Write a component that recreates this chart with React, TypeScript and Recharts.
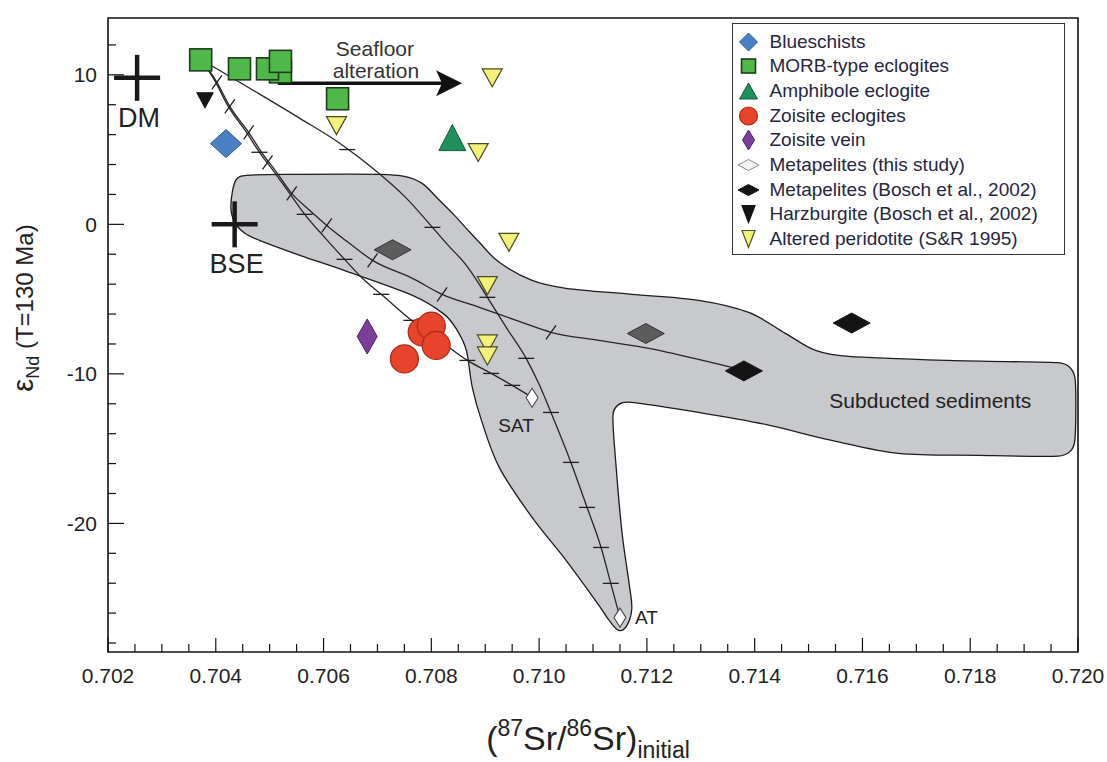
import React from 'react'
import { ScatterChart, Scatter, XAxis, YAxis, ReferenceArea } from 'recharts'

const FONT = "'Liberation Sans', Arial, Helvetica, sans-serif"

// layout (pixels)
const W = 1107
const H = 762
const PLOT_LEFT = 108
const PLOT_RIGHT = 1078
const PLOT_TOP = 18
const PLOT_BOTTOM = 652

// axes
const X_DOMAIN: [number, number] = [0.702, 0.72]
const Y_DOMAIN: [number, number] = [-28.6, 13.8]
const X_MAJOR = [0.702, 0.704, 0.706, 0.708, 0.71, 0.712, 0.714, 0.716, 0.718, 0.72]
const X_TICKS = X_MAJOR.flatMap((m, i) =>
  i === X_MAJOR.length - 1 ? [m] : [m, m + 0.0005, m + 0.001, m + 0.0015].map((v) => Number(v.toFixed(4)))
)
const Y_MAJOR = [-20, -10, 0, 10]
const Y_TICKS = [-28, -26, -24, -22, -20, -18, -16, -14, -12, -10, -8, -6, -4, -2, 0, 2, 4, 6, 8, 10, 12]

// samples
const blueschists = [{ x: 0.70419, y: 5.4 }]
const morbEclogites = [
  { x: 0.7052, y: 10.2 },
  { x: 0.70372, y: 11.0 },
  { x: 0.70444, y: 10.4 },
  { x: 0.70496, y: 10.4 },
  { x: 0.7052, y: 10.9 },
  { x: 0.70626, y: 8.4 },
]
const amphiboleEclogite = [{ x: 0.70839, y: 5.8 }]
const zoisiteEclogites = [
  { x: 0.70783, y: -7.2 },
  { x: 0.708, y: -6.8 },
  { x: 0.70809, y: -8.1 },
  { x: 0.7075, y: -9.0 },
]
const zoisiteVein = [{ x: 0.70681, y: -7.5 }]
const metapelitesThisStudy = [
  { x: 0.70987, y: -11.6, name: 'SAT' },
  { x: 0.7115, y: -26.3, name: 'AT' },
]
const metapelitesBoschGrey = [
  { x: 0.70728, y: -1.7 },
  { x: 0.71198, y: -7.3 },
]
const metapelitesBosch = [
  { x: 0.7158, y: -6.6 },
  { x: 0.7138, y: -9.8 },
]
const harzburgite = [{ x: 0.7038, y: 8.3 }]
const alteredPeridotite = [
  { x: 0.70913, y: 9.8 },
  { x: 0.70624, y: 6.6 },
  { x: 0.70887, y: 4.8 },
  { x: 0.70944, y: -1.2 },
  { x: 0.70904, y: -4.1 },
  { x: 0.70904, y: -8.0 },
  { x: 0.70904, y: -8.8 },
]
const reservoirs = [
  { x: 0.70254, y: 9.8, name: 'DM' },
  { x: 0.70435, y: 0, name: 'BSE' },
]

// annotations
const seafloorArrow = [
  { x: 0.70515, y: 9.43 },
  { x: 0.70857, y: 9.43 },
]
const sedimentLabel = [{ x: 0.71726, y: -11.8, name: 'Subducted sediments' }]

// subducted sediment field outline
const sedimentOutline = [
  { x: 0.70437, y: 2.94 }, { x: 0.70459, y: 3.28 }, { x: 0.70556, y: 3.34 }, { x: 0.70704, y: 3.34 },
  { x: 0.7075, y: 3.21 }, { x: 0.70783, y: 2.74 }, { x: 0.70815, y: 1.61 }, { x: 0.70843, y: 0.6 },
  { x: 0.70865, y: -0.27 }, { x: 0.70889, y: -1.2 }, { x: 0.70926, y: -2.54 }, { x: 0.70987, y: -3.75 },
  { x: 0.7105, y: -4.28 }, { x: 0.71172, y: -4.68 }, { x: 0.71296, y: -5.08 }, { x: 0.71389, y: -5.89 },
  { x: 0.71457, y: -7.29 }, { x: 0.71513, y: -8.43 }, { x: 0.71574, y: -8.83 }, { x: 0.71759, y: -9.1 },
  { x: 0.71907, y: -9.2 }, { x: 0.71963, y: -9.25 }, { x: 0.71983, y: -9.5 }, { x: 0.71994, y: -10.2 },
  { x: 0.71996, y: -12.0 }, { x: 0.71994, y: -14.5 }, { x: 0.71985, y: -15.2 }, { x: 0.71963, y: -15.5 },
  { x: 0.71815, y: -15.45 }, { x: 0.71667, y: -15.32 }, { x: 0.71543, y: -14.45 },
  { x: 0.7142, y: -13.38 }, { x: 0.71296, y: -12.58 }, { x: 0.71172, y: -11.91 }, { x: 0.71148, y: -12.04 },
  { x: 0.71137, y: -12.78 }, { x: 0.71143, y: -16.25 }, { x: 0.71154, y: -20.67 }, { x: 0.71167, y: -24.01 },
  { x: 0.71172, y: -25.69 }, { x: 0.71163, y: -26.82 }, { x: 0.71148, y: -27.16 }, { x: 0.7113, y: -26.49 },
  { x: 0.71111, y: -25.48 }, { x: 0.7105, y: -22.47 }, { x: 0.70987, y: -19.6 }, { x: 0.70926, y: -16.25 },
  { x: 0.70893, y: -13.11 }, { x: 0.70876, y: -10.9 }, { x: 0.70865, y: -8.43 }, { x: 0.70848, y: -7.09 },
  { x: 0.70824, y: -6.02 }, { x: 0.70765, y: -4.75 }, { x: 0.70643, y: -3.14 }, { x: 0.70556, y: -2.07 },
  { x: 0.70481, y: -1.07 }, { x: 0.70454, y: -0.6 }, { x: 0.70435, y: 0.13 }, { x: 0.70428, y: 1.27 },
]

// mixing curves
const mixSAT = [
  { x: 0.70372, y: 11.04 }, { x: 0.70398, y: 9.63 }, { x: 0.70422, y: 7.96 }, { x: 0.70457, y: 6.15 },
  { x: 0.70481, y: 4.82 }, { x: 0.70509, y: 3.48 }, { x: 0.70537, y: 2.07 }, { x: 0.70565, y: 0.67 },
  { x: 0.70602, y: -0.87 }, { x: 0.70639, y: -2.34 }, { x: 0.70672, y: -3.61 }, { x: 0.70707, y: -4.68 },
  { x: 0.70763, y: -6.42 }, { x: 0.7082, y: -7.89 }, { x: 0.70867, y: -9.1 }, { x: 0.70911, y: -9.97 },
  { x: 0.7095, y: -10.77 }, { x: 0.70987, y: -11.57 },
]
const mixSATTicks = [
  { x: 0.70481, y: 4.82 }, { x: 0.70565, y: 0.67 }, { x: 0.70639, y: -2.34 }, { x: 0.70707, y: -4.68 },
  { x: 0.70763, y: -6.42 }, { x: 0.70867, y: -9.1 }, { x: 0.70911, y: -9.97 }, { x: 0.7095, y: -10.77 },
]
const mixBosch = [
  { x: 0.70372, y: 11.04 }, { x: 0.70402, y: 9.5 }, { x: 0.70426, y: 7.89 }, { x: 0.70461, y: 6.15 },
  { x: 0.70485, y: 4.82 }, { x: 0.70513, y: 3.48 }, { x: 0.70541, y: 2.07 }, { x: 0.70574, y: 0.94 },
  { x: 0.70606, y: -0.07 }, { x: 0.70648, y: -1.27 }, { x: 0.70691, y: -2.41 }, { x: 0.70765, y: -3.61 },
  { x: 0.7082, y: -4.68 }, { x: 0.70889, y: -5.55 }, { x: 0.70963, y: -6.49 }, { x: 0.71022, y: -7.22 },
  { x: 0.71111, y: -7.76 }, { x: 0.71204, y: -8.29 }, { x: 0.71296, y: -9.03 }, { x: 0.7138, y: -9.77 },
]
const mixBoschTicks = [
  { x: 0.70402, y: 9.5 }, { x: 0.70426, y: 7.89 }, { x: 0.70461, y: 6.15 }, { x: 0.70496, y: 4.15 },
  { x: 0.70541, y: 2.07 }, { x: 0.70606, y: -0.07 }, { x: 0.70691, y: -2.41 }, { x: 0.7082, y: -4.68 },
  { x: 0.71022, y: -7.22 },
]
const mixAT = [
  { x: 0.70372, y: 11.04 }, { x: 0.70463, y: 9.1 }, { x: 0.70556, y: 7.09 }, { x: 0.7063, y: 5.42 },
  { x: 0.70698, y: 3.55 }, { x: 0.70754, y: 1.74 }, { x: 0.70802, y: -0.2 }, { x: 0.70833, y: -1.47 },
  { x: 0.70865, y: -2.74 }, { x: 0.70889, y: -4.01 }, { x: 0.70904, y: -4.88 }, { x: 0.70939, y: -6.89 },
  { x: 0.70976, y: -8.96 }, { x: 0.71, y: -10.7 }, { x: 0.71022, y: -12.58 }, { x: 0.71059, y: -15.92 },
  { x: 0.71089, y: -18.93 }, { x: 0.71115, y: -21.61 }, { x: 0.71133, y: -24.01 }, { x: 0.7115, y: -26.29 },
]
const mixATTicks = [
  { x: 0.70644, y: 5.0 }, { x: 0.70802, y: -0.2 }, { x: 0.70904, y: -4.88 }, { x: 0.70976, y: -8.96 },
  { x: 0.71022, y: -12.58 }, { x: 0.71059, y: -15.92 }, { x: 0.71089, y: -18.93 }, { x: 0.71115, y: -21.61 },
  { x: 0.71133, y: -24.01 },
]

// ---------- marker shapes ----------
type P = { cx: number; cy: number; payload?: any }

const diamond = (w: number, h: number, fill: string, stroke: string, sw = 1) => (p: P) => (
  <path
    d={`M${p.cx},${p.cy - h / 2}L${p.cx + w / 2},${p.cy}L${p.cx},${p.cy + h / 2}L${p.cx - w / 2},${p.cy}Z`}
    fill={fill}
    stroke={stroke}
    strokeWidth={sw}
  />
)
const square = (s: number, fill: string, stroke: string) => (p: P) => (
  <rect x={p.cx - s / 2} y={p.cy - s / 2} width={s} height={s} fill={fill} stroke={stroke} strokeWidth={1.6} />
)
const triUp = (w: number, h: number, fill: string, stroke: string) => (p: P) => (
  <path d={`M${p.cx},${p.cy - h / 2}L${p.cx + w / 2},${p.cy + h / 2}L${p.cx - w / 2},${p.cy + h / 2}Z`} fill={fill} stroke={stroke} strokeWidth={1} />
)
const triDown = (w: number, h: number, fill: string, stroke: string, sw = 1.2) => (p: P) => (
  <path d={`M${p.cx - w / 2},${p.cy - h / 2}L${p.cx + w / 2},${p.cy - h / 2}L${p.cx},${p.cy + h / 2}Z`} fill={fill} stroke={stroke} strokeWidth={sw} />
)
const circle = (r: number, fill: string, stroke: string) => (p: P) => (
  <circle cx={p.cx} cy={p.cy} r={r} fill={fill} stroke={stroke} strokeWidth={1.2} />
)

const noDot = () => <g />
const hTick = (p: P) => <line x1={p.cx - 8} x2={p.cx + 8} y1={p.cy} y2={p.cy} stroke="#1f1f1f" strokeWidth={1.3} />
const dTick = (p: P) => <line x1={p.cx - 5} x2={p.cx + 5} y1={p.cy + 7} y2={p.cy - 7} stroke="#1f1f1f" strokeWidth={1.3} />

const crossShape = (p: P) => (
  <g>
    <line x1={p.cx - 23} x2={p.cx + 23} y1={p.cy} y2={p.cy} stroke="#1a1a1a" strokeWidth={4.5} />
    <line x1={p.cx} x2={p.cx} y1={p.cy - 23} y2={p.cy + 23} stroke="#1a1a1a" strokeWidth={4.5} />
    <text x={p.cx + 2} y={p.cy + 49} textAnchor="middle" fontSize={27} fill="#222" fontFamily={FONT}>
      {p.payload?.name}
    </text>
  </g>
)

const whiteDiamond = diamond(12, 19, '#ffffff', '#4a4a4a', 1.1)
const sampleShape = (p: P) => {
  const isAT = p.payload?.name === 'AT'
  return (
    <g>
      {whiteDiamond(p)}
      <text
        x={isAT ? p.cx + 15 : p.cx - 16}
        y={isAT ? p.cy + 6 : p.cy + 34}
        textAnchor={isAT ? 'start' : 'middle'}
        fontSize={19}
        fill="#222"
        fontFamily={FONT}
      >
        {p.payload?.name}
      </text>
    </g>
  )
}

const textShape = (p: P) => (
  <text x={p.cx} y={p.cy + 7} textAnchor="middle" fontSize={21} fill="#222" fontFamily={FONT}>
    {p.payload?.name}
  </text>
)

// closed Catmull-Rom style spline through pixel points, handles limited to avoid overshoot
function closedSpline(pts: { x: number; y: number }[]) {
  const n = pts.length
  const handle = (a: { x: number; y: number }, b: { x: number; y: number }, seg: number) => {
    const tx = (b.x - a.x) / 6
    const ty = (b.y - a.y) / 6
    const len = Math.hypot(tx, ty) || 1
    const k = Math.min(1, (seg * 0.4) / len)
    return { x: tx * k, y: ty * k }
  }
  let d = `M${pts[0].x},${pts[0].y}`
  for (let i = 0; i < n; i++) {
    const p0 = pts[(i - 1 + n) % n]
    const p1 = pts[i]
    const p2 = pts[(i + 1) % n]
    const p3 = pts[(i + 2) % n]
    const seg = Math.hypot(p2.x - p1.x, p2.y - p1.y)
    const h1 = handle(p0, p2, seg)
    const h2 = handle(p1, p3, seg)
    d += `C${p1.x + h1.x},${p1.y + h1.y} ${p2.x - h2.x},${p2.y - h2.y} ${p2.x},${p2.y}`
  }
  return d + 'Z'
}

const blobLine = (props: any) => (
  <path d={closedSpline(props.points)} fill="#c8c9cc" stroke="#1c1c1c" strokeWidth={1.3} />
)

const arrowLine = (props: any) => {
  const [a, b] = props.points as { x: number; y: number }[]
  const mid = (a.x + b.x) / 2
  return (
    <g>
      <line x1={a.x} y1={a.y} x2={b.x - 20} y2={b.y} stroke="#111" strokeWidth={3.5} />
      <path d={`M${b.x},${b.y}L${b.x - 26},${b.y - 13}L${b.x - 20},${b.y}L${b.x - 26},${b.y + 13}Z`} fill="#111" />
      <text x={mid + 5} y={a.y - 27} textAnchor="middle" fontSize={21} fill="#333" fontFamily={FONT}>
        Seafloor
      </text>
      <text x={mid + 6} y={a.y - 5} textAnchor="middle" fontSize={21} fill="#333" fontFamily={FONT}>
        alteration
      </text>
    </g>
  )
}

// ---------- axes ----------
function XTick(props: any) {
  const { x, payload } = props
  const v = payload.value as number
  const major = X_MAJOR.some((m) => Math.abs(m - v) < 1e-7)
  return (
    <g>
      <line x1={x} x2={x} y1={PLOT_BOTTOM} y2={PLOT_BOTTOM - (major ? 14 : 8)} stroke="#111" strokeWidth={1.2} />
      {major && (
        <text x={x} y={PLOT_BOTTOM + 31} textAnchor="middle" fontSize={21} fill="#222" fontFamily={FONT}>
          {v.toFixed(3)}
        </text>
      )}
    </g>
  )
}

function YTick(props: any) {
  const { y, payload } = props
  const v = payload.value as number
  const major = Y_MAJOR.includes(v)
  return (
    <g>
      <line x1={PLOT_LEFT} x2={PLOT_LEFT + (major ? 16 : 8)} y1={y} y2={y} stroke="#111" strokeWidth={1.2} />
      {major && (
        <text x={PLOT_LEFT - 11} y={y + 7.5} textAnchor="end" fontSize={21} fill="#222" fontFamily={FONT}>
          {String(v)}
        </text>
      )}
    </g>
  )
}

const YTitle = () => (
  <text transform="translate(33,308) rotate(-90)" textAnchor="middle" fill="#222" fontFamily={FONT}>
    <tspan fontSize={29}>ε</tspan>
    <tspan fontSize={18} dy={6}>Nd</tspan>
    <tspan fontSize={24} dy={-6}> (T=130 Ma)</tspan>
  </text>
)

const XTitle = () => (
  <text x={588} y={750} textAnchor="middle" fill="#222" fontFamily={FONT} fontSize={34}>
    <tspan>(</tspan>
    <tspan fontSize={23} dy={-14}>87</tspan>
    <tspan dy={14}>Sr/</tspan>
    <tspan fontSize={23} dy={-14}>86</tspan>
    <tspan dy={14}>Sr)</tspan>
    <tspan fontSize={23} dy={8}>initial</tspan>
  </text>
)

// ---------- legend ----------
const LEGEND_LABELS = [
  'Blueschists',
  'MORB-type eclogites',
  'Amphibole eclogite',
  'Zoisite eclogites',
  'Zoisite vein',
  'Metapelites (this study)',
  'Metapelites (Bosch et al., 2002)',
  'Harzburgite (Bosch et al., 2002)',
  'Altered peridotite (S&R 1995)',
]
const LEGEND_SYMBOLS = [
  diamond(18, 18, '#4a80c4', '#2d5a8e'),
  square(14, '#4fb848', '#1e3b1e'),
  triUp(18, 16, '#1f8f5c', '#145a3a'),
  circle(9, '#e8432b', '#b02a18'),
  diamond(12, 20, '#7a3d98', '#4b2560'),
  diamond(21, 11, '#f2f2f2', '#8a8a8a'),
  diamond(21, 11, '#141414', '#141414'),
  triDown(13, 17, '#141414', '#141414'),
  triDown(13, 17, '#f2f27a', '#55552a'),
]

function LegendBox() {
  return (
    <div
      style={{
        position: 'absolute',
        left: 732,
        top: 23,
        width: 333,
        height: 232,
        border: '1.5px solid #333',
        boxSizing: 'border-box',
        background: '#fff',
        fontFamily: FONT,
      }}
    >
      {LEGEND_LABELS.map((label, i) => (
        <div
          key={label}
          style={{ position: 'absolute', left: 0, top: 4.5 + i * 24.7, height: 26, width: 330, display: 'flex', alignItems: 'center' }}
        >
          <svg width={32} height={26} style={{ flex: 'none' }}>
            {LEGEND_SYMBOLS[i]({ cx: 15.5, cy: 13 })}
          </svg>
          <span style={{ marginLeft: 4.5, fontSize: 19, color: '#26263f', whiteSpace: 'nowrap' }}>{label}</span>
        </div>
      ))}
    </div>
  )
}

export default function App() {
  return (
    <div style={{ position: 'absolute', left: 0, top: 0, width: W, height: H, background: '#fff' }}>
      <ScatterChart width={W} height={H} margin={{ top: PLOT_TOP, right: W - PLOT_RIGHT, bottom: 0, left: 0 }}>
        <XAxis
          type="number"
          dataKey="x"
          domain={X_DOMAIN}
          ticks={X_TICKS}
          interval={0}
          allowDataOverflow
          axisLine={false}
          tickLine={false}
          tick={(p: any) => <XTick {...p} />}
          height={H - PLOT_BOTTOM}
          label={<XTitle />}
        />
        <YAxis
          type="number"
          dataKey="y"
          domain={Y_DOMAIN}
          ticks={Y_TICKS}
          interval={0}
          allowDataOverflow
          axisLine={false}
          tickLine={false}
          tick={(p: any) => <YTick {...p} />}
          width={PLOT_LEFT}
          label={<YTitle />}
        />

        <Scatter data={sedimentOutline} shape={noDot} line={blobLine} isAnimationActive={false} legendType="none" />
        <Scatter data={sedimentLabel} shape={textShape} isAnimationActive={false} legendType="none" />

        <Scatter data={mixSAT} shape={noDot} line={{ stroke: '#262626', strokeWidth: 1.3 }} lineJointType="monotoneX" isAnimationActive={false} legendType="none" />
        <Scatter data={mixBosch} shape={noDot} line={{ stroke: '#262626', strokeWidth: 1.3 }} lineJointType="monotoneX" isAnimationActive={false} legendType="none" />
        <Scatter data={mixAT} shape={noDot} line={{ stroke: '#262626', strokeWidth: 1.3 }} lineJointType="monotoneX" isAnimationActive={false} legendType="none" />
        <Scatter data={mixSATTicks} shape={hTick} isAnimationActive={false} legendType="none" />
        <Scatter data={mixBoschTicks} shape={dTick} isAnimationActive={false} legendType="none" />
        <Scatter data={mixATTicks} shape={hTick} isAnimationActive={false} legendType="none" />

        <Scatter data={seafloorArrow} shape={noDot} line={arrowLine} isAnimationActive={false} legendType="none" />
        <Scatter data={reservoirs} shape={crossShape} isAnimationActive={false} legendType="none" />

        <Scatter name="Altered peridotite (S&R 1995)" data={alteredPeridotite} shape={triDown(20, 18, '#f2f27a', '#4a4a22')} isAnimationActive={false} />
        <Scatter name="Harzburgite (Bosch et al., 2002)" data={harzburgite} shape={triDown(16, 15, '#151515', '#151515')} isAnimationActive={false} />
        <Scatter name="Metapelites grey" data={metapelitesBoschGrey} shape={diamond(37, 20, '#5c5c5c', '#333')} isAnimationActive={false} legendType="none" />
        <Scatter name="Metapelites (Bosch et al., 2002)" data={metapelitesBosch} shape={diamond(37, 20, '#141414', '#141414')} isAnimationActive={false} />
        <Scatter name="Blueschists" data={blueschists} shape={diamond(31, 28, '#4a80c4', '#2d5a8e')} isAnimationActive={false} />
        <Scatter name="MORB-type eclogites" data={morbEclogites} shape={square(22, '#4fb848', '#1e3b1e')} isAnimationActive={false} />
        <Scatter name="Amphibole eclogite" data={amphiboleEclogite} shape={triUp(27, 26, '#1f8f5c', '#145a3a')} isAnimationActive={false} />
        <Scatter name="Zoisite eclogites" data={zoisiteEclogites} shape={circle(14, '#e8432b', '#a82a18')} isAnimationActive={false} />
        <Scatter name="Zoisite vein" data={zoisiteVein} shape={diamond(20, 35, '#7a3d98', '#4b2560')} isAnimationActive={false} />
        <Scatter name="Metapelites (this study)" data={metapelitesThisStudy} shape={sampleShape} isAnimationActive={false} />

        <ReferenceArea x1={X_DOMAIN[0]} x2={X_DOMAIN[1]} y1={Y_DOMAIN[0]} y2={Y_DOMAIN[1]} fill="none" stroke="#111" strokeWidth={1.6} />
      </ScatterChart>
      <LegendBox />
    </div>
  )
}
